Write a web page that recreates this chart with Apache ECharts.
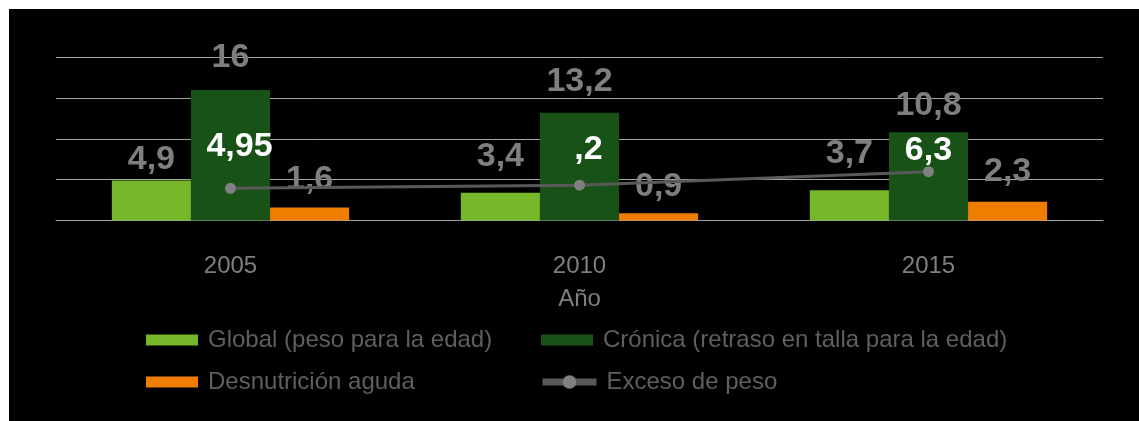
<!DOCTYPE html>
<html>
<head>
<meta charset="utf-8">
<script src="https://cdn.jsdelivr.net/npm/echarts@6/dist/echarts.min.js"></script>
<style>
  html, body { margin: 0; padding: 0; width: 100%; height: 100%; background: #ffffff; overflow: hidden; }
  #main { position: absolute; left: 9px; top: 9px; right: 0; bottom: 0; background: #000000; }
</style>
</head>
<body>
<div id="main"></div>
<script>
// datos
var years = ['2005', '2010', '2015'];
var globalPeso = [4.9, 3.4, 3.7];
var cronica = [16, 13.2, 10.8];
var aguda = [1.6, 0.9, 2.3];
var excesoPeso = [4.95, 5.2, 6.3];
var excesoLabels = ['4,95', ',2', '6,3'];

// ajustes de etiquetas (solo estilo)
var globalDist = [4, 19, 20];
var cronicaDist = [15, 14, 10];
var agudaDist = [11, 10, 13];
var excesoOffsets = [[9, -19], [9, -13], [0, 1]];

var font = 'Liberation Sans, Arial, sans-serif';
var gris = '#7f7f7f';

function comma(v) {
    return String(v).replace('.', ',');
}

function barData(values, dists) {
    return values.map(function (v, i) {
        return { value: v, label: { distance: dists[i] } };
    });
}

var barLabel = {
    show: true,
    position: 'top',
    color: gris,
    fontFamily: font,
    fontWeight: 'bold',
    fontSize: 34,
    formatter: function (p) { return comma(p.value); }
};

var legendText = {
    color: '#5f5f5f',
    fontFamily: font,
    fontSize: 24,
    padding: [0, 0, 0, 5]
};

var option = {
    backgroundColor: '#000000',
    animation: false,
    grid: { left: 47, right: 36, top: 48.3, height: 163.2 },
    legend: [{
        orient: 'vertical',
        left: 137,
        top: 319,
        padding: 0,
        icon: 'rect',
        itemWidth: 52,
        itemHeight: 11,
        itemGap: 18,
        textStyle: legendText,
        data: ['Global (peso para la edad)', 'Desnutrición aguda']
    }, {
        left: 532,
        top: 319,
        padding: 0,
        icon: 'rect',
        itemWidth: 52,
        itemHeight: 11,
        textStyle: legendText,
        data: ['Crónica (retraso en talla para la edad)']
    }, {
        left: 530,
        top: 361,
        padding: 0,
        itemWidth: 54,
        itemHeight: 17,
        textStyle: legendText,
        data: [{
            name: 'Exceso de peso',
            itemStyle: { color: '#808080' },
            lineStyle: { width: 7, color: '#595959', cap: 'butt' }
        }]
    }],
    xAxis: {
        type: 'category',
        data: years,
        name: 'Año',
        nameLocation: 'middle',
        nameGap: 67,
        nameTextStyle: { color: gris, fontFamily: font, fontSize: 24 },
        axisTick: { show: false },
        axisLine: { show: true, lineStyle: { color: '#a6a6a6', width: 1 } },
        axisLabel: { color: gris, fontFamily: font, fontSize: 24, margin: 34 }
    },
    yAxis: [{
        type: 'value',
        min: 0,
        max: 20,
        interval: 5,
        axisLabel: { show: false },
        axisLine: { show: false },
        axisTick: { show: false },
        splitLine: { lineStyle: { color: '#a6a6a6', width: 1 } }
    }, {
        type: 'value',
        min: 2.33,
        max: 15.6,
        show: false,
        splitLine: { show: false }
    }],
    series: [{
        name: 'Global (peso para la edad)',
        type: 'bar',
        barGap: 0,
        barCategoryGap: '32%',
        itemStyle: { color: '#77b82a' },
        label: barLabel,
        data: barData(globalPeso, globalDist)
    }, {
        name: 'Crónica (retraso en talla para la edad)',
        type: 'bar',
        itemStyle: { color: '#185217' },
        label: barLabel,
        data: barData(cronica, cronicaDist)
    }, {
        name: 'Desnutrición aguda',
        type: 'bar',
        itemStyle: { color: '#ef7d00' },
        label: barLabel,
        data: barData(aguda, agudaDist)
    }, {
        name: 'Exceso de peso',
        type: 'line',
        yAxisIndex: 1,
        z: 5,
        symbol: 'circle',
        symbolSize: 11,
        itemStyle: { color: '#808080' },
        lineStyle: { color: '#595959', width: 3 },
        label: {
            show: true,
            position: 'top',
            distance: 0,
            color: '#ffffff',
            fontFamily: font,
            fontWeight: 'bold',
            fontSize: 34,
            formatter: function (p) { return excesoLabels[p.dataIndex]; }
        },
        data: excesoPeso.map(function (v, i) {
            return { value: v, label: { offset: excesoOffsets[i] } };
        })
    }]
};

var myChart = echarts.init(document.getElementById('main'));
myChart.setOption(option);
</script>
</body>
</html>
